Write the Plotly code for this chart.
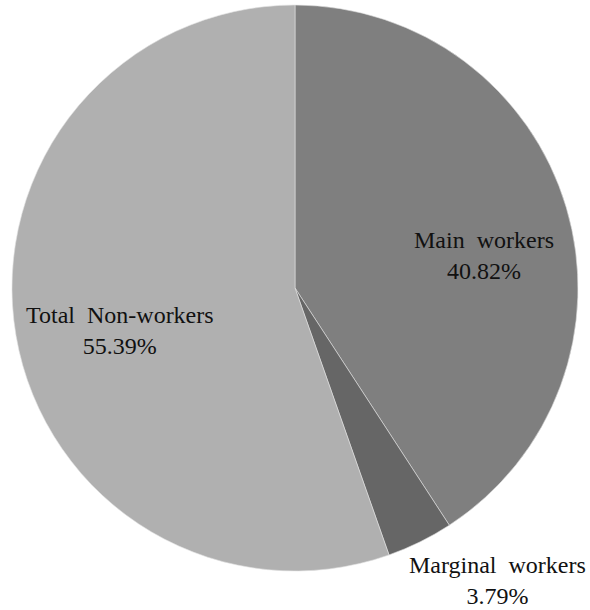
import plotly.graph_objects as go

categories = ["Main workers", "Marginal workers", "Total Non-workers"]
values = [40.82, 3.79, 55.39]
colors = ["#7f7f7f", "#666666", "#b0b0b0"]

W, H = 590, 610
fig = go.Figure(go.Pie(
    labels=categories, values=values, sort=False, direction="clockwise", rotation=0,
    marker=dict(colors=colors, line=dict(color="rgba(225,225,225,0.6)", width=1)),
    textinfo="none", hoverinfo="label+percent",
    domain=dict(x=[12/W, 578/W], y=[1-571/H, 1-5/H]),
))

font = dict(family="Liberation Serif, Times New Roman, serif", size=24, color="#111111")
label_pos = {"Main workers": (484, 255), "Marginal workers": (497, 580), "Total Non-workers": (120, 330)}
for c, v in zip(categories, values):
    x, y = label_pos[c]
    fig.add_annotation(x=x/W, y=1-y/H, xref="paper", yref="paper", showarrow=False,
                       xanchor="center", yanchor="middle",
                       text=f"{c.replace(' ', '&nbsp; ')}<br>{v:.2f}%", font=font, align="center")

fig.update_layout(width=W, height=H, margin=dict(l=0, r=0, t=0, b=0),
                  showlegend=False, paper_bgcolor="white", plot_bgcolor="white")
fig.write_html("out.html", config={"displayModeBar": False},
               post_script="document.body.style.margin='0';document.body.style.overflow='hidden';")
